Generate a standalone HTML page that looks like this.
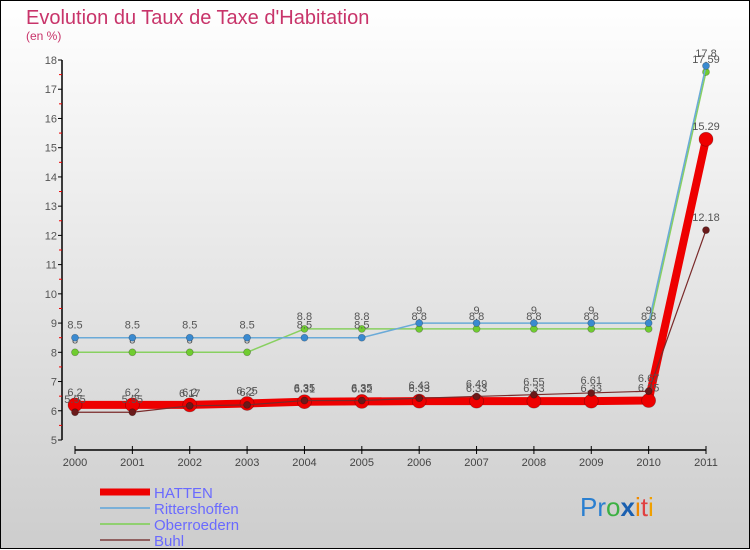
<!DOCTYPE html>
<html><head><meta charset="utf-8"><style>
body{margin:0}
svg{display:block;font-family:"Liberation Sans",sans-serif}
</style></head><body>
<svg id="chart" width="750" height="550">
<defs><linearGradient id="bg" x1="0" y1="0" x2="0" y2="1"><stop offset="0" stop-color="#ffffff"/><stop offset="1" stop-color="#cdcdcd"/></linearGradient></defs>
<rect x="0.5" y="0.5" width="749" height="548" fill="url(#bg)" stroke="#000"/>
<text x="26" y="24" font-size="20" fill="#c8346a">Evolution du Taux de Taxe d'Habitation</text>
<text x="26" y="40" font-size="12" fill="#c8346a">(en %)</text>
<g id="axes"></g><g id="series"></g><g id="legend"></g>
<text x="580" y="516" font-size="26"><tspan fill="#2a7fd0">Pr</tspan><tspan fill="#3cb043">o</tspan><tspan fill="#1a5fb0" font-weight="bold">x</tspan><tspan fill="#f08a00">i</tspan><tspan fill="#e04040">t</tspan><tspan fill="#f0a000">i</tspan></text>
</svg>
<script>
const years=[2000,2001,2002,2003,2004,2005,2006,2007,2008,2009,2010,2011];
const yTicks=[5,6,7,8,9,10,11,12,13,14,15,16,17,18];
const seriesNames=["HATTEN","Rittershoffen","Oberroedern","Buhl"];
const hatten=[6.2,6.2,6.2,6.25,6.31,6.32,6.33,6.33,6.33,6.33,6.35,15.29];
const ritters=[8.5,8.5,8.5,8.5,8.5,8.5,9,9,9,9,9,17.8];
const oberro=[8,8,8,8,8.8,8.8,8.8,8.8,8.8,8.8,8.8,17.59];
const buhl=[5.95,5.95,6.17,6.2,6.35,6.35,6.43,6.49,6.55,6.61,6.67,12.18];
const NS="http://www.w3.org/2000/svg";
const x=i=>75+i*(706-75)/(years.length-1);
const y=v=>440-(v-5)*(440-60)/13;
function mk(tag,attrs,parent){const e=document.createElementNS(NS,tag);for(const k in attrs)e.setAttribute(k,attrs[k]);parent.appendChild(e);return e;}
const ax=document.getElementById('axes');
let e=mk('line',{x1:62,y1:60,x2:62,y2:440,stroke:'#000','stroke-width':1.5},ax);


e=mk('line',{x1:75,y1:450,x2:706,y2:450,stroke:'#000','stroke-width':1.5},ax);


yTicks.forEach((t,i)=>{
 mk('line',{x1:58,y1:y(t),x2:62,y2:y(t),stroke:'#000'},ax);
 if(i<yTicks.length-1)mk('line',{x1:59,y1:y(t+0.5),x2:62,y2:y(t+0.5),stroke:'#e00'},ax);
 const tx=mk('text',{x:57,y:y(t)+4,'font-size':11,fill:'#555','text-anchor':'end'},ax);tx.textContent=t;
 
 
});
years.forEach((yr,i)=>{
 mk('line',{x1:x(i),y1:446,x2:x(i),y2:454,stroke:'#000'},ax);
 const tx=mk('text',{x:x(i),y:466,'font-size':11,fill:'#444','text-anchor':'middle'},ax);tx.textContent=yr;
 
 
});
const sg=document.getElementById('series');
function draw(vals,color,w,r,name,fill){
 const g=mk('g',{},sg);
 
 
 const p=mk('polyline',{points:vals.map((v,i)=>x(i)+','+y(v)).join(' '),fill:'none',stroke:color,'stroke-width':w,'stroke-linejoin':'round'},g);
 vals.forEach((v,i)=>{
  const c=mk('circle',{cx:x(i),cy:y(v),r:r,fill:fill,stroke:'rgba(0,0,0,0.3)','stroke-width':0.7},g);
  
  
  const t=mk('text',{x:x(i),y:y(v)-9,'font-size':11,fill:'#555','text-anchor':'middle'},g);t.textContent=v;
  
  
 });
}
draw(oberro,'#88d060',1.5,3.5,'oberroedern','#70cc30');
draw(ritters,'#6aaad8',1.5,3.5,'rittershoffen','#3a8ad0');
draw(hatten,'#ee0000',8,7,'hatten','#ee0000');
draw(buhl,'#7a2a2a',1.2,3.5,'buhl','#6a1a1a');
const lg=document.getElementById('legend');
const lc=[['#ee0000',7],['#7ab0d8',2],['#90d070',2],['#906060',2]];
seriesNames.forEach((n,i)=>{
 const yy=492+i*16;
 mk('line',{x1:100,y1:yy,x2:150,y2:yy,stroke:lc[i][0],'stroke-width':lc[i][1]},lg);
 const t=mk('text',{x:154,y:yy+6,'font-size':15,fill:'#6a6aff'},lg);t.textContent=n;
 
 
});
</script>
</body></html>
